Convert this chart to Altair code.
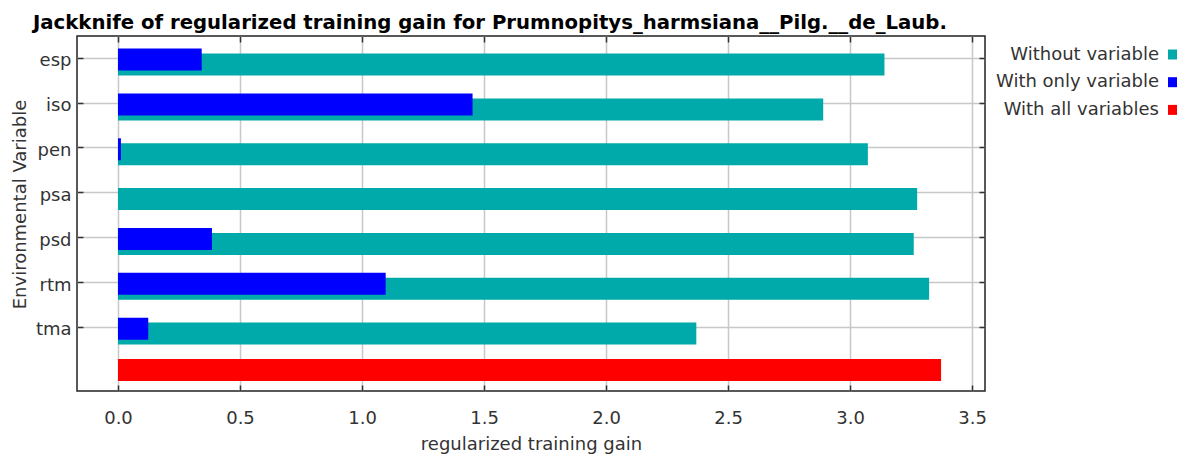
import json
import altair as alt
import pandas as pd

# ---- data ----
variables = ["esp", "iso", "pen", "psa", "psd", "rtm", "tma"]
without_variable = [3.141, 2.890, 3.073, 3.275, 3.261, 3.324, 2.370]
with_only_variable = [0.343, 1.453, 0.012, 0.0, 0.385, 1.097, 0.124]
with_all_variables = 3.373

series_names = ["Without variable", "With only variable", "With all variables"]
series_colors = ["#00AAAA", "#0000FF", "#FF0000"]
x_ticks = [0.0, 0.5, 1.0, 1.5, 2.0, 2.5, 3.0, 3.5]

rows = []
for i, v in enumerate(variables):
    rows.append({"variable": v, "idx": i, "series": series_names[0], "gain": without_variable[i]})
for i, v in enumerate(variables):
    rows.append({"variable": v, "idx": i, "series": series_names[1], "gain": with_only_variable[i]})
rows.append({"variable": "", "idx": len(variables), "series": series_names[2], "gain": with_all_variables})
df = pd.DataFrame(rows)

FONT = "DejaVu Sans"
label_expr = json.dumps(variables) + "[datum.value]"

x_scale = alt.Scale(domain=[-0.168, 3.553], nice=False, zero=False)
y_scale = alt.Scale(domain=[-0.375, 7.319], nice=False, zero=False, reverse=True)

base = alt.Chart(df).transform_calculate(
    pos="datum.idx + (datum.series == 'Without variable' ? 0.15 : (datum.series == 'With only variable' ? 0.04 : -0.04))"
)

bars = base.mark_bar(size=22, orient="horizontal").encode(
    x=alt.X(
        "gain:Q",
        scale=x_scale,
        stack=False,
        axis=alt.Axis(
            values=x_ticks, format=".1f", orient="bottom", offset=-6, tickSize=6,
            domain=False, grid=True, labelPadding=32, labelBaseline="alphabetic",
            title="regularized training gain", titleY=64, titleBaseline="alphabetic",
        ),
    ),
    y=alt.Y(
        "pos:Q",
        scale=y_scale,
        axis=alt.Axis(
            values=list(range(len(variables))), labelExpr=label_expr, orient="left",
            offset=-6, tickSize=6, domain=False, grid=True, labelPadding=6, labelOffset=3,
            title="Environmental Variable", titleAngle=270, titleX=-63, titleY=168,
            titleAlign="center", titleBaseline="middle",
        ),
    ),
    color=alt.Color(
        "series:N",
        scale=alt.Scale(domain=series_names, range=series_colors),
        legend=alt.Legend(
            title=None, orient="none", legendX=1087, legendY=9.5, symbolType="square",
            symbolSize=100, symbolStrokeWidth=0, labelAlign="right",
            labelOffset={"expr": "-23"}, labelLimit=400, rowPadding=9.7, padding=0,
            labelFontSize=18, labelFont=FONT, labelColor="#333333",
        ),
    ),
)

frame_axes = base.mark_bar(size=22, orient="horizontal", opacity=0).encode(
    x=alt.X(
        "gain:Q", scale=x_scale, stack=False,
        axis=alt.Axis(values=x_ticks, orient="top", offset=-6, tickSize=6, labels=False,
                      domain=False, grid=False, title=None),
    ),
    y=alt.Y(
        "pos:Q", scale=y_scale,
        axis=alt.Axis(values=list(range(len(variables))), orient="right", offset=-6, tickSize=6,
                      labels=False, domain=False, grid=False, title=None),
    ),
)

chart = alt.layer(bars, frame_axes).resolve_axis(x="independent", y="independent").properties(
    width=908,
    height=355,
    autosize=alt.AutoSizeParams(type="none"),
    padding={"left": 69, "top": 28, "right": 192, "bottom": 63},
    title=alt.TitleParams(
        text="Jackknife of regularized training gain for Prumnopitys_harmsiana__Pilg.__de_Laub.",
        anchor="start", frame="group", dx=-44, offset={"expr": "-13"}, baseline="alphabetic",
        font=FONT, fontSize=19.7, fontWeight="bold", color="#000000",
    ),
).configure_view(
    stroke="#222222", strokeWidth=1.5
).configure_axis(
    labelFont=FONT, labelFontSize=18, labelColor="#333333",
    titleFont=FONT, titleFontSize=18, titleColor="#333333", titleFontWeight="normal",
    tickColor="#333333", tickWidth=1.5, gridColor="#C8C8C8", gridWidth=1.5,
)

chart.save("out.html", embed_options={"renderer": "svg", "actions": False})
